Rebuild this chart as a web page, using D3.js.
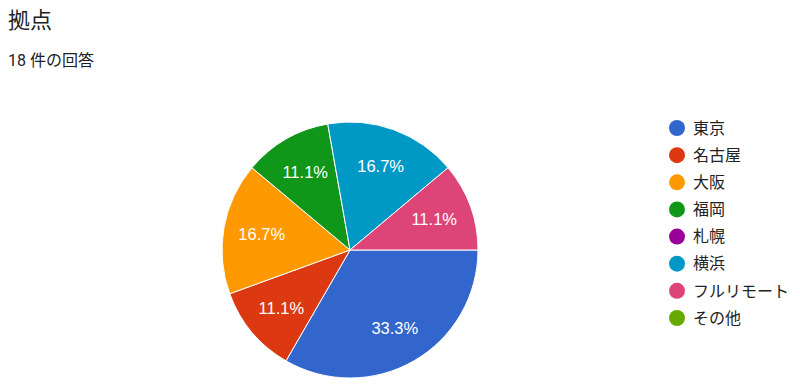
<!DOCTYPE html>
<html>
<head>
<meta charset="utf-8">
<script src="https://cdn.jsdelivr.net/npm/d3@7"></script>
<style>
  body { margin: 0; background: #fff; }
  svg { display: block; }
</style>
</head>
<body>
<svg class="board" width="800" height="388"></svg>
<script>
// answers per location (18 in total)
var categories = ['東京', '名古屋', '大阪', '福岡', '札幌', '横浜', 'フルリモート', 'その他'];
var counts = [6, 2, 3, 2, 0, 3, 2, 0];
var colors = ['#3366cc', '#dc3912', '#ff9900', '#109618', '#990099', '#0099c6', '#dd4477', '#66aa00'];
var title = '拠点';
var subtitle = '18 件の回答';

var board = d3.select('.board');
var jpFont = 'Roboto, "Noto Sans CJK JP", sans-serif';

board.append('text')
  .attr('x', 8).attr('y', 28)
  .attr('font-family', jpFont).attr('font-size', 22)
  .attr('fill', '#202124')
  .text(title);

board.append('text')
  .attr('x', 8).attr('y', 66)
  .attr('font-family', jpFont).attr('font-size', 16)
  .attr('fill', '#202124')
  .text(subtitle);

var total = d3.sum(counts);
var data = categories.map(function (c, i) {
  return { name: c, value: counts[i], color: colors[i] };
});

var radius = 128;
var cx = 350, cy = 250;

// google charts start at 3 o'clock and go clockwise
var pie = d3.pie()
  .sort(null)
  .value(function (d) { return d.value; })
  .startAngle(Math.PI / 2)
  .endAngle(Math.PI / 2 + 2 * Math.PI);

var arc = d3.arc().innerRadius(0).outerRadius(radius);
var labelArc = d3.arc().innerRadius(radius * 0.7).outerRadius(radius * 0.7);

var g = board.append('g').attr('transform', 'translate(' + cx + ',' + cy + ')');
var slices = pie(data).filter(function (d) { return d.data.value > 0; });

g.selectAll('.slice').data(slices)
  .enter().append('path').classed('slice', true)
  .attr('d', arc)
  .attr('fill', function (d) { return d.data.color; })
  .attr('stroke', '#fff')
  .attr('stroke-width', 1);

var fmt = d3.format('.1%');
g.selectAll('.pct').data(slices)
  .enter().append('text').classed('pct', true)
  .attr('transform', function (d) { return 'translate(' + labelArc.centroid(d) + ')'; })
  .attr('text-anchor', 'middle')
  .attr('dy', '0.36em')
  .attr('font-family', 'Arial, "Liberation Sans", sans-serif')
  .attr('font-size', 16.5)
  .attr('fill', '#fff')
  .text(function (d) { return fmt(d.data.value / total); });

// legend
var legendY = d3.scalePoint().domain(categories).range([128, 318]);
var legend = board.append('g').selectAll('.item').data(data)
  .enter().append('g').classed('item', true)
  .attr('transform', function (d) { return 'translate(677,' + legendY(d.name) + ')'; });

legend.append('circle').attr('r', 8).attr('fill', function (d) { return d.color; });
legend.append('text')
  .attr('x', 16).attr('dy', '0.36em')
  .attr('font-family', jpFont).attr('font-size', 16)
  .attr('fill', '#222')
  .text(function (d) { return d.name; });
</script>
</body>
</html>
